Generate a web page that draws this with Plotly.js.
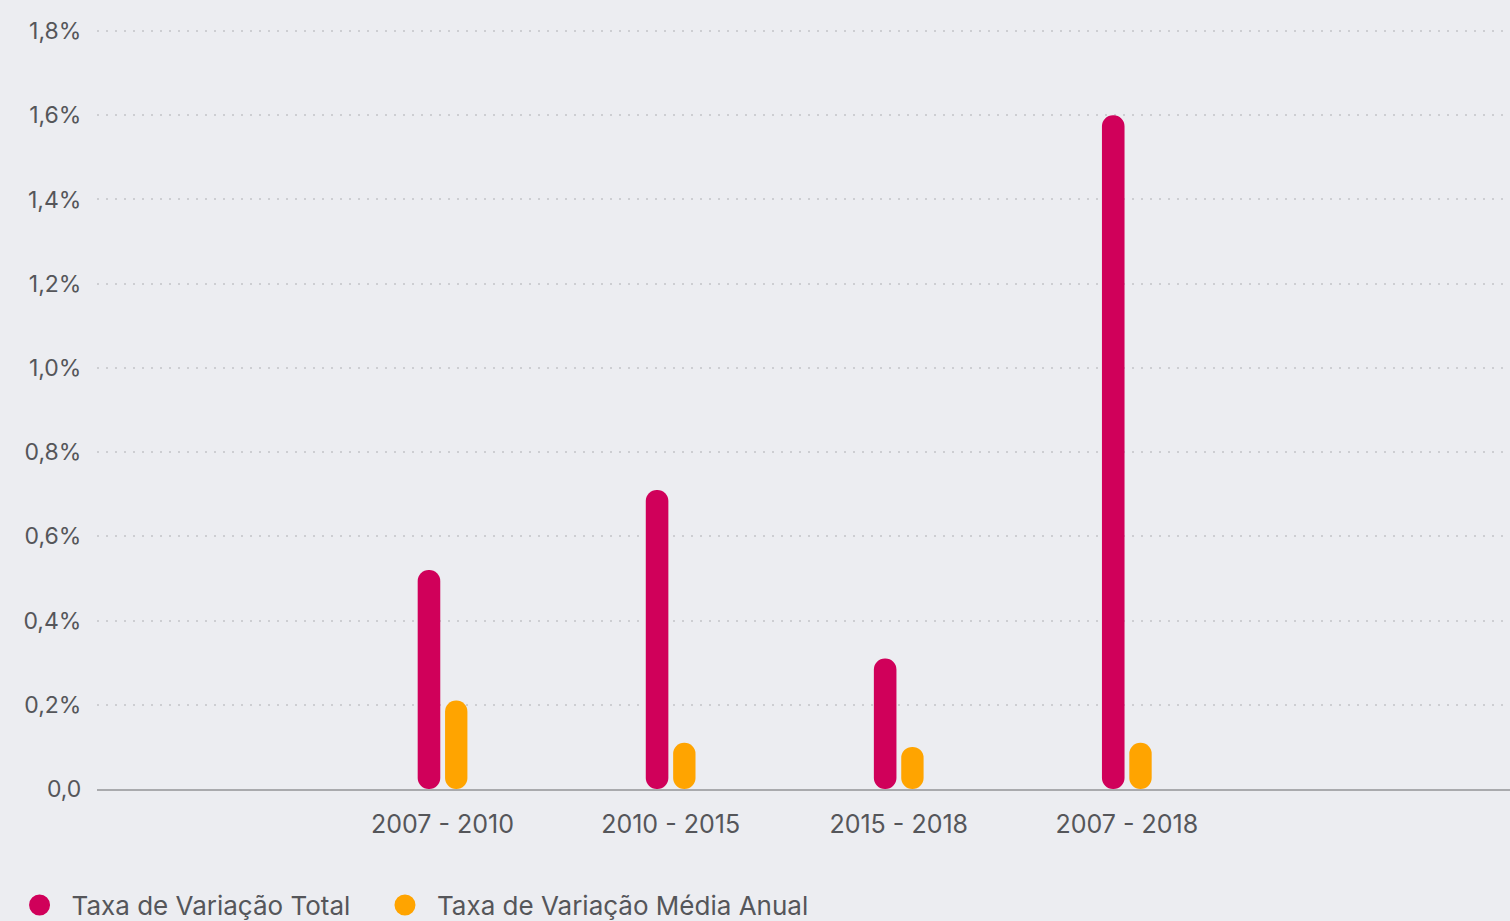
<!DOCTYPE html>
<html>
<head>
<meta charset="utf-8">
<script src="https://cdn.plot.ly/plotly-3.0.1.min.js"></script>
<style>
html,body{margin:0;padding:0;background:#ecedf1;}
#chart{width:1510px;height:921px;}
</style>
</head>
<body>
<div id="chart"></div>
<script>
// Data
var periods = ["2007 - 2010", "2010 - 2015", "2015 - 2018", "2007 - 2018"];
var totalRate = [0.52, 0.71, 0.31, 1.60];
var avgRate = [0.21, 0.11, 0.10, 0.11];
var seriesNames = ["Taxa de Variação Total", "Taxa de Variação Média Anual"];
var yTickVals = [0, 0.2, 0.4, 0.6, 0.8, 1.0, 1.2, 1.4, 1.6, 1.8];
var yTickText = ["0,0", "0,2%", "0,4%", "0,6%", "0,8%", "1,0%", "1,2%", "1,4%", "1,6%", "1,8%"];

var colors = ["#d0005a", "#ffa400"];
var fontFam = "Inter, 'Open Sans', sans-serif";
var textColor = "#55565a";

var traces = [
  {type:"bar", x:periods, y:totalRate, base:0, offset:-0.109, width:0.099,
   marker:{color:colors[0], cornerradius:11}, showlegend:false, hoverinfo:"skip"},
  {type:"bar", x:periods, y:avgRate, base:0, offset:0.011, width:0.098,
   marker:{color:colors[1], cornerradius:11}, showlegend:false, hoverinfo:"skip"},
  // legend entries
  {type:"scatter", mode:"markers", x:[null], y:[null], name:seriesNames[0], legend:"legend",
   marker:{color:colors[0], size:16, symbol:"circle", line:{color:colors[0], width:5}}},
  {type:"scatter", mode:"markers", x:[null], y:[null], name:seriesNames[1], legend:"legend2",
   marker:{color:colors[1], size:16, symbol:"circle", line:{color:colors[1], width:5}}}
];

var legendBase = {orientation:"h", xref:"container", xanchor:"left", y:-0.122, yanchor:"top",
  font:{family:fontFam, size:26, color:textColor}, bgcolor:"rgba(0,0,0,0)",
  itemsizing:"trace", itemwidth:54};

var layout = {
  width:1510, height:921,
  paper_bgcolor:"#ecedf1", plot_bgcolor:"#ecedf1",
  margin:{l:97, r:0, t:30, b:132, autoexpand:false},
  barmode:"overlay",
  font:{family:fontFam, color:textColor, size:22},
  xaxis:{type:"category", range:[-1.515, 4.68], showgrid:false, zeroline:false,
    showline:true, linecolor:"#a9aaad", linewidth:2,
    ticks:"outside", ticklen:12, tickcolor:"rgba(0,0,0,0)",
    tickfont:{family:fontFam, size:25, color:textColor}, fixedrange:true},
  yaxis:{range:[0,1.8025], tickvals:yTickVals, ticktext:yTickText,
    showgrid:true, gridcolor:"#cdced2", griddash:"2px,7px", gridwidth:2,
    zeroline:false, showline:false,
    ticks:"outside", ticklen:10, tickcolor:"rgba(0,0,0,0)",
    tickfont:{family:fontFam, size:23, color:textColor}, fixedrange:true},
  showlegend:true,
  legend:Object.assign({}, legendBase, {x:0.005}),
  legend2:Object.assign({}, legendBase, {x:0.247})
};

Plotly.newPlot("chart", traces, layout, {displayModeBar:false, staticPlot:true});
</script>
</body>
</html>
